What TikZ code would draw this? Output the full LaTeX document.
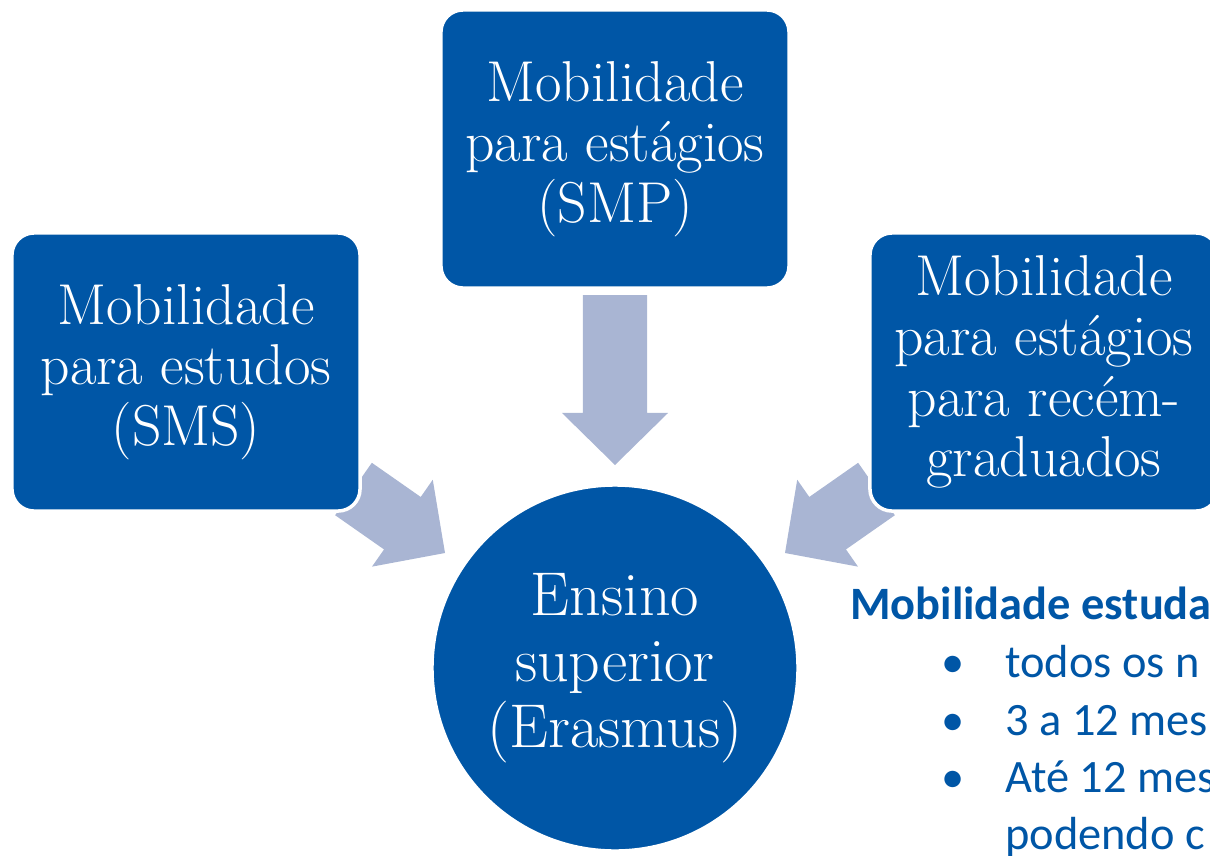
\documentclass[tikz,border=0pt]{standalone}
\usepackage{fontspec}
\newfontfamily\calibri{Carlito}
\usepackage{tikz}
\usetikzlibrary{calc, positioning}

\definecolor{boxblue}{RGB}{0,86,166}
\definecolor{arrowgray}{RGB}{169,181,211}

% fat block arrow from #1 to tip #2
\newcommand{\fatarrow}[2]{%
  \coordinate (hb) at ($(#2)!1.3cm!(#1)$);
  \fill[fatarrow] ($(#1)!0.8cm!90:(#2)$) -- ($(hb)!0.8cm!90:(#2)$) -- ($(hb)!1.325cm!90:(#2)$)
    -- (#2) -- ($(hb)!1.325cm!-90:(#2)$) -- ($(hb)!0.8cm!-90:(#2)$) -- ($(#1)!0.8cm!-90:(#2)$) -- cycle;
}

\begin{document}
\begin{tikzpicture}[
    x=0.025cm, y=-0.025cm,
    % Node styles
    mobbox/.style={rectangle, rounded corners=0.55cm, draw=white, line width=2.5pt, fill=boxblue, text=white, minimum width=8.7cm, minimum height=6.95cm, align=center, font=\fontsize{41}{43}\selectfont},
    hub/.style={circle, draw=white, line width=2.5pt, fill=boxblue, text=white, minimum size=9.15cm, inner sep=0pt, align=center, font=\fontsize{44}{47}\selectfont},
    heading/.style={anchor=base west, inner sep=0pt, text=boxblue, font=\calibri\bfseries\fontsize{33}{40}\selectfont},
    bullettext/.style={anchor=base west, inner sep=0pt, text=boxblue, font=\calibri\fontsize{33}{40}\selectfont},
    fatarrow/.style={fill=arrowgray},
]
\useasboundingbox (0,0) rectangle (1210,855);
\clip (0,0) rectangle (1210,855);

% Arrows (drawn first, boxes go on top)
\coordinate (smp-out) at (615,295);
\coordinate (smp-tip) at (615,465);
\coordinate (sms-out) at (353.5,489);
\coordinate (sms-tip) at (445,553);
\coordinate (grad-out) at (876.5,489);
\coordinate (grad-tip) at (785,553);
\fatarrow{smp-out}{smp-tip}
\fatarrow{sms-out}{sms-tip}
\fatarrow{grad-out}{grad-tip}

% Mobility boxes
\node[mobbox] (smp) at (615,149) {Mobilidade\\para estágios\\(SMP)};
\node[mobbox] (sms) at (186,372) {Mobilidade\\para estudos\\(SMS)};
\node[mobbox] (grad) at (1044,372) {Mobilidade\\para estágios\\para recém-\\graduados};

% Centre circle
\node[hub] (erasmus) at (615,668) {Ensino\\superior\\(Erasmus)};

% Side text (cut at the right edge)
\node[heading] (head) at (850,619) {Mobilidade estuda};
\foreach \y/\txt [count=\i] in {677/todos os n, 735/3 a 12 mes, 792/Até 12 mes} {
  \node[bullettext, anchor=base] (dot\i) at (953,\y) {\textbullet};
  \node[bullettext] (line\i) at (1005,\y) {\txt};
}
\node[bullettext] (line4) at (1005,849) {podendo c};

\end{tikzpicture}
\end{document}
